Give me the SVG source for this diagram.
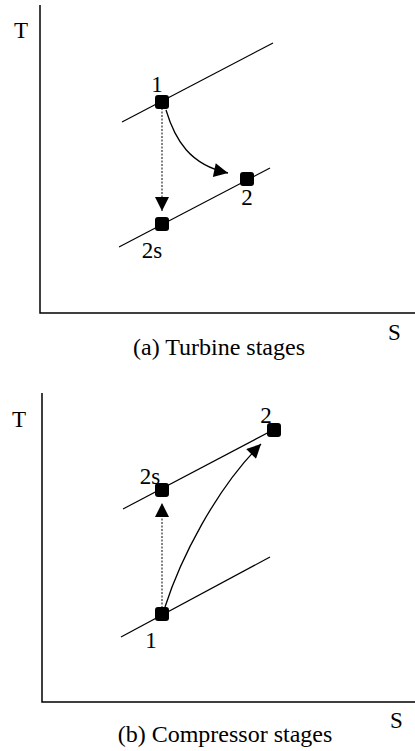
<svg xmlns="http://www.w3.org/2000/svg" width="415" height="751" viewBox="0 0 415 751">
<style>
text{font-family:"Liberation Serif","Times New Roman",serif;fill:#000;font-size:23px}
.cap{font-size:24px}
.axis{stroke:#000;stroke-width:1.5;fill:none}
.iso{stroke:#000;stroke-width:1.2;fill:none}
.dot{stroke:#333;stroke-width:1.2;stroke-dasharray:2,1.5;fill:none}
.proc{stroke:#000;stroke-width:1.3;fill:none}
.pt{fill:#000}
</style>
<defs>
<marker id="ah" viewBox="0 0 10 10" refX="10" refY="5" markerUnits="userSpaceOnUse" markerWidth="15" markerHeight="14" orient="auto">
<path d="M0,0 L10,5 L0,10 z" fill="#000"/>
</marker>
</defs>
<rect width="415" height="751" fill="#fff"/>

<g id="panel-a">
<g id="axes-a">
<path class="axis" d="M40,5 V313 H415"/>
<text x="14" y="38">T</text>
<text x="388" y="340">S</text>
<text class="cap" x="219" y="355" text-anchor="middle">(a) Turbine stages</text>
</g>
<g id="isobars-a">
<line class="iso" x1="122" y1="122" x2="273" y2="43"/>
<line class="iso" x1="119" y1="247" x2="270" y2="168"/>
</g>
<g id="connectors-a">
<line class="dot" x1="162" y1="108" x2="162" y2="211" marker-end="url(#ah)"/>
<path class="proc" d="M166,110 C175,140 190,165 228,173" marker-end="url(#ah)"/>
</g>
<g id="a-p1"><rect class="pt" x="155" y="95" width="14" height="14" rx="3"/><text x="157" y="92" text-anchor="middle">1</text></g>
<g id="a-p2"><rect class="pt" x="240" y="172" width="14" height="14" rx="3"/><text x="247" y="205" text-anchor="middle">2</text></g>
<g id="a-p2s"><rect class="pt" x="155" y="217" width="14" height="14" rx="3"/><text x="152" y="258" text-anchor="middle">2s</text></g>
</g>

<g id="panel-b">
<g id="axes-b">
<path class="axis" d="M42,393 V702 H415"/>
<text x="12" y="427">T</text>
<text x="390" y="728">S</text>
<text class="cap" x="225" y="742" text-anchor="middle">(b) Compressor stages</text>
</g>
<g id="isobars-b">
<line class="iso" x1="123" y1="509" x2="273" y2="430"/>
<line class="iso" x1="121" y1="637" x2="270" y2="557"/>
</g>
<g id="connectors-b">
<line class="dot" x1="162" y1="608" x2="162" y2="503" marker-end="url(#ah)"/>
<path class="proc" d="M165,607 C180,560 215,490 261,444" marker-end="url(#ah)"/>
</g>
<g id="b-p1"><rect class="pt" x="155" y="607" width="14" height="14" rx="3"/><text x="151" y="648" text-anchor="middle">1</text></g>
<g id="b-p2"><rect class="pt" x="267" y="423" width="14" height="14" rx="3"/><text x="266" y="423" text-anchor="middle">2</text></g>
<g id="b-p2s"><rect class="pt" x="155" y="483" width="14" height="14" rx="3"/><text x="150" y="484" text-anchor="middle">2s</text></g>
</g>
</svg>
